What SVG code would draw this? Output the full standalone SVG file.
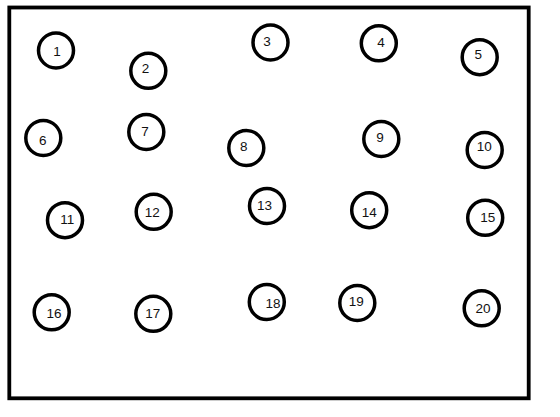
<svg xmlns="http://www.w3.org/2000/svg" width="560" height="417" viewBox="0 0 560 417">
<style>
.frame{fill:none;stroke:#000;stroke-width:3.8}
.node circle{fill:#fff;stroke:#000;stroke-width:3.5}
.node text{font-family:"Liberation Sans",Arial,sans-serif;font-size:13.5px;fill:#111;text-anchor:middle}
</style>
<rect width="560" height="417" fill="#fff"/>
<rect class="frame" x="9.3" y="7.5" width="519.4" height="390.8"/>
<g id="connectors"></g>
<g id="n1" class="node"><circle cx="56" cy="50.5" r="17.5"/><text x="57" y="55.6">1</text></g>
<g id="n2" class="node"><circle cx="148.3" cy="70.8" r="17.5"/><text x="145.5" y="72.6">2</text></g>
<g id="n3" class="node"><circle cx="270.5" cy="42.5" r="17.5"/><text x="267" y="46">3</text></g>
<g id="n4" class="node"><circle cx="378.8" cy="43.3" r="17.5"/><text x="381" y="47">4</text></g>
<g id="n5" class="node"><circle cx="479.7" cy="57.2" r="17.5"/><text x="478.3" y="58.7">5</text></g>
<g id="n6" class="node"><circle cx="43.3" cy="138" r="17.5"/><text x="42.7" y="145.3">6</text></g>
<g id="n7" class="node"><circle cx="146.3" cy="132" r="17.5"/><text x="145" y="135.6">7</text></g>
<g id="n8" class="node"><circle cx="246.3" cy="148" r="17.5"/><text x="243.7" y="150.6">8</text></g>
<g id="n9" class="node"><circle cx="381.3" cy="139" r="17.5"/><text x="380" y="141.6">9</text></g>
<g id="n10" class="node"><circle cx="484.7" cy="150" r="17.5"/><text x="484.3" y="151.3">10</text></g>
<g id="n11" class="node"><circle cx="65" cy="220.2" r="17.5"/><text x="67.3" y="224.3">11</text></g>
<g id="n12" class="node"><circle cx="153.7" cy="211.8" r="17.5"/><text x="152.3" y="217.3">12</text></g>
<g id="n13" class="node"><circle cx="267" cy="206" r="17.5"/><text x="264.5" y="210.3">13</text></g>
<g id="n14" class="node"><circle cx="369.2" cy="210.2" r="17.5"/><text x="369.3" y="216.6">14</text></g>
<g id="n15" class="node"><circle cx="485.2" cy="217.8" r="17.5"/><text x="487.7" y="222.3">15</text></g>
<g id="n16" class="node"><circle cx="51.7" cy="312.3" r="17.5"/><text x="54" y="317.6">16</text></g>
<g id="n17" class="node"><circle cx="153.3" cy="313.8" r="17.5"/><text x="152.7" y="318.3">17</text></g>
<g id="n18" class="node"><circle cx="266.8" cy="302" r="17.5"/><text x="273" y="307.9">18</text></g>
<g id="n19" class="node"><circle cx="357.3" cy="303" r="17.5"/><text x="356.3" y="305.6">19</text></g>
<g id="n20" class="node"><circle cx="481.7" cy="308.3" r="17.5"/><text x="483" y="312.6">20</text></g>
</svg>
